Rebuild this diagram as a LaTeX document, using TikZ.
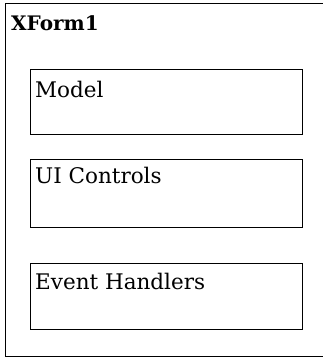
\documentclass[tikz,border=0pt]{standalone}
\usepackage{fontspec}
\setmainfont{DejaVu Serif}
\usepackage{tikz}
\usetikzlibrary{positioning, calc}

\begin{document}
\begin{tikzpicture}[x=1pt, y=-1pt]
    \tikzstyle{formbox} = [rectangle, draw, line width=1.2pt, minimum width=400pt, minimum height=353pt, anchor=north west, inner sep=0pt]
    \tikzstyle{part} = [rectangle, draw, line width=0.9pt, minimum width=272pt, minimum height=65pt, anchor=north west, inner sep=0pt]
    \tikzstyle{partlabel} = [font=\fontsize{21.5}{26}\selectfont, inner sep=0pt, anchor=base west]

    \useasboundingbox (0,0) rectangle (323,362);
    \clip (0,0) rectangle (323,362);

    \node[formbox] (xform) at (5,3) {};
    \node[partlabel, font=\fontsize{20}{24}\selectfont\bfseries] (xformtext) at ($(xform.north west)+(6,27)$) {XForm1};

    \node[part] (model) at (30,69) {};
    \node[part, minimum height=68pt, below=24pt of model] (ui) {};
    \node[part, minimum height=66pt, below=35pt of ui] (events) {};

    \node[partlabel] (modeltext) at ($(model.north west)+(5,28)$) {Model};
    \node[partlabel] (uitext) at ($(ui.north west)+(5,25)$) {UI Controls};
    \node[partlabel] (eventstext) at ($(events.north west)+(5,27)$) {Event Handlers};
\end{tikzpicture}
\end{document}
